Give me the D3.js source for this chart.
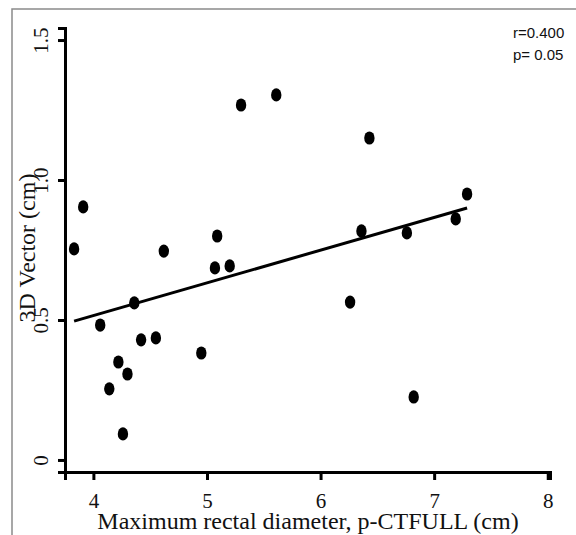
<!DOCTYPE html>
<html>
<head>
<meta charset="utf-8">
<script src="https://cdn.jsdelivr.net/npm/d3@7"></script>
<style>
  body { margin: 0; background: #fff; }
  svg { display: block; }
</style>
</head>
<body>
<svg id="chart" width="576" height="535"></svg>
<script>
// rectal diameter (cm) vs 3D vector (cm)
var diameter = [3.83, 3.91, 4.06, 4.36, 4.14, 4.22, 4.30, 4.26, 4.42, 4.55, 4.62, 4.95,
                5.07, 5.09, 5.20, 5.30, 5.61, 6.26, 6.36, 6.43, 6.76, 6.82, 7.19, 7.29];
var vector3d = [0.754, 0.904, 0.482, 0.561, 0.254, 0.350, 0.307, 0.093, 0.429, 0.436, 0.746, 0.382,
                0.686, 0.800, 0.693, 1.268, 1.304, 0.564, 0.818, 1.150, 0.811, 0.225, 0.861, 0.950];
// ends of the fitted line
var fitX = [3.83, 7.29];
var fitY = [0.496, 0.900];
var xTicks = [4, 5, 6, 7, 8];
var yTicks = [0, 0.5, 1.0, 1.5];
var yTickLabels = ["0", "0.5", "1.0", "1.5"];
var statLines = ["r=0.400", "p= 0.05"];

var svg = d3.select('#chart');

// grey frame round the figure
svg.append('rect')
    .attr('x', 12).attr('y', 9)
    .attr('width', 600).attr('height', 600)
    .attr('fill', 'none')
    .attr('stroke', '#8a8a8a')
    .attr('stroke-width', 1.5);

var x = d3.scaleLinear().domain([3.75, 8.02]).range([65, 550]);
var y = d3.scaleLinear().domain([-0.043, 1.543]).range([472, 28]);

var serif = '"Liberation Serif", "Times New Roman", serif';

// x axis
var xAxis = svg.append('g')
    .attr('transform', 'translate(0,' + y(-0.043) + ')')
    .call(d3.axisBottom(x).tickValues(xTicks).tickFormat(d3.format('d'))
        .tickSizeOuter(0).tickSize(8).tickPadding(13));
xAxis.select('.domain').attr('stroke', '#000').attr('stroke-width', 3);
xAxis.selectAll('.tick line').attr('stroke', '#000').attr('stroke-width', 3);
xAxis.selectAll('.tick text')
    .attr('fill', '#111')
    .style('font-family', serif)
    .style('font-size', '21px');

// y axis, labels turned on their side
var yAxis = svg.append('g')
    .attr('transform', 'translate(' + x(3.75) + ',0)')
    .call(d3.axisLeft(y).tickValues(yTicks)
        .tickFormat(function(d, i) { return yTickLabels[i]; })
        .tickSizeOuter(0).tickSize(7));
yAxis.select('.domain').attr('stroke', '#000').attr('stroke-width', 3);
yAxis.selectAll('.tick line').attr('stroke', '#000').attr('stroke-width', 3);
yAxis.selectAll('.tick text')
    .attr('fill', '#111')
    .attr('transform', 'rotate(-90)')
    .attr('x', 0)
    .attr('y', -17)
    .attr('dy', 0)
    .attr('text-anchor', 'middle')
    .style('font-family', serif)
    .style('font-size', '21px');

// axis titles
svg.append('text')
    .attr('x', 308)
    .attr('y', 529)
    .attr('text-anchor', 'middle')
    .attr('fill', '#111')
    .style('font-family', serif)
    .style('font-size', '24px')
    .text('Maximum rectal diameter, p-CTFULL (cm)');

svg.append('text')
    .attr('transform', 'translate(35,248) rotate(-90)')
    .attr('text-anchor', 'middle')
    .attr('fill', '#111')
    .style('font-family', serif)
    .style('font-size', '24px')
    .text('3D Vector  (cm)');

// fitted line
svg.append('line')
    .attr('x1', x(fitX[0])).attr('y1', y(fitY[0]))
    .attr('x2', x(fitX[1])).attr('y2', y(fitY[1]))
    .attr('stroke', '#000')
    .attr('stroke-width', 3);

// points
svg.selectAll('ellipse.pt')
    .data(diameter)
    .enter()
    .append('ellipse')
    .attr('class', 'pt')
    .attr('cx', function(d) { return x(d); })
    .attr('cy', function(d, i) { return y(vector3d[i]); })
    .attr('rx', 5.2)
    .attr('ry', 6.6)
    .attr('fill', '#000');

// r and p
svg.selectAll('text.stat')
    .data(statLines)
    .enter()
    .append('text')
    .attr('class', 'stat')
    .attr('x', 513)
    .attr('y', function(d, i) { return 37.5 + i * 22.5; })
    .attr('fill', '#111')
    .style('font-family', '"Liberation Sans", Arial, sans-serif')
    .style('font-size', '15px')
    .text(function(d) { return d; });
</script>
</body>
</html>
